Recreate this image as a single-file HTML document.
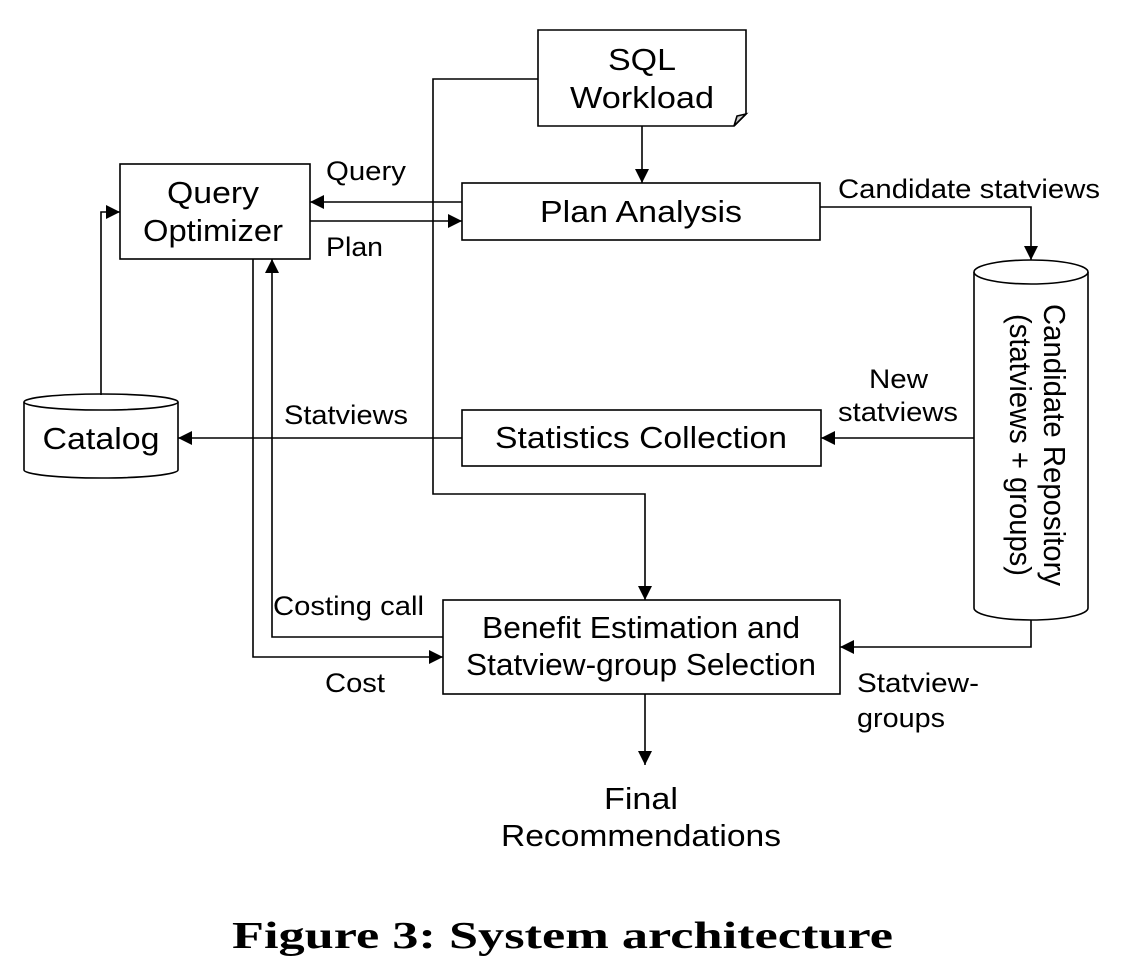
<!DOCTYPE html>
<html><head><style>
body{margin:0;background:#fff}
svg{display:block}
text{font-family:"Liberation Sans",sans-serif;fill:#000}
</style></head><body>
<svg width="1126" height="972" viewBox="0 0 1126 972">
<defs><marker id="a" viewBox="0 0 10 10" refX="10" refY="5" markerWidth="14" markerHeight="14" markerUnits="userSpaceOnUse" orient="auto"><path d="M0,0 L10,5 L0,10 z" fill="#000"/></marker></defs>
<g stroke="#000" stroke-width="1.6" fill="none">
<path d="M538,30 H746 V114 L734,126 H538 Z" fill="#fff"/>
<path d="M734,126 L737,116 L746,114 Z" fill="#ccc"/>
<rect x="462" y="183" width="358" height="57" fill="#fff"/>
<rect x="120" y="164" width="190" height="95" fill="#fff"/>
<rect x="462" y="410" width="359" height="56" fill="#fff"/>
<rect x="443" y="600" width="397" height="94" fill="#fff"/>
<path d="M24,402 V470 A77,8 0 0 0 178,470 V402" fill="#fff"/>
<ellipse cx="101" cy="402" rx="77" ry="8" fill="#fff"/>
<path d="M974,272 V608 A57,12 0 0 0 1088,608 V272" fill="#fff"/>
<ellipse cx="1031" cy="272" rx="57" ry="12" fill="#fff"/>
<path d="M642,126 V183" marker-end="url(#a)"/>
<path d="M538,79 H433 V494 H645 V600" marker-end="url(#a)"/>
<path d="M462,202 H310" marker-end="url(#a)"/>
<path d="M310,221 H462" marker-end="url(#a)"/>
<path d="M820,207 H1031 V260" marker-end="url(#a)"/>
<path d="M974,438 H821" marker-end="url(#a)"/>
<path d="M462,438 H178" marker-end="url(#a)"/>
<path d="M101,395 V212 H120" marker-end="url(#a)"/>
<path d="M443,637 H272 V259" marker-end="url(#a)"/>
<path d="M253,259 V657 H443" marker-end="url(#a)"/>
<path d="M1031,620 V647 H840" marker-end="url(#a)"/>
<path d="M645,694 V765" marker-end="url(#a)"/>
</g>
<g font-size="31" text-anchor="middle">
<text x="642" y="70" textLength="68" lengthAdjust="spacingAndGlyphs">SQL</text>
<text x="642" y="108" textLength="144" lengthAdjust="spacingAndGlyphs">Workload</text>
<text x="641" y="222" textLength="202" lengthAdjust="spacingAndGlyphs">Plan Analysis</text>
<text x="213" y="203" textLength="92" lengthAdjust="spacingAndGlyphs">Query</text>
<text x="213" y="241" textLength="140" lengthAdjust="spacingAndGlyphs">Optimizer</text>
<text x="101" y="449" textLength="117" lengthAdjust="spacingAndGlyphs">Catalog</text>
<text x="641" y="448" textLength="292" lengthAdjust="spacingAndGlyphs">Statistics Collection</text>
<text x="641" y="638" textLength="318" lengthAdjust="spacingAndGlyphs">Benefit Estimation and</text>
<text x="641" y="675" textLength="350" lengthAdjust="spacingAndGlyphs">Statview-group Selection</text>
<text x="641" y="809" textLength="74" lengthAdjust="spacingAndGlyphs">Final</text>
<text x="641" y="846" textLength="280" lengthAdjust="spacingAndGlyphs">Recommendations</text>
<text transform="translate(1044,445) rotate(90)" textLength="282" lengthAdjust="spacingAndGlyphs">Candidate Repository</text>
<text transform="translate(1010,445) rotate(90)" textLength="262" lengthAdjust="spacingAndGlyphs">(statviews + groups)</text>
</g>
<g font-size="27">
<text x="326" y="180" textLength="80" lengthAdjust="spacingAndGlyphs">Query</text>
<text x="326" y="256" textLength="57" lengthAdjust="spacingAndGlyphs">Plan</text>
<text x="838" y="198" textLength="262" lengthAdjust="spacingAndGlyphs">Candidate statviews</text>
<text x="869" y="388" textLength="59" lengthAdjust="spacingAndGlyphs">New</text>
<text x="838" y="421" textLength="120" lengthAdjust="spacingAndGlyphs">statviews</text>
<text x="284" y="424" textLength="124" lengthAdjust="spacingAndGlyphs">Statviews</text>
<text x="273" y="615" textLength="151" lengthAdjust="spacingAndGlyphs">Costing call</text>
<text x="325" y="692" textLength="60" lengthAdjust="spacingAndGlyphs">Cost</text>
<text x="857" y="692" textLength="122" lengthAdjust="spacingAndGlyphs">Statview-</text>
<text x="857" y="727" textLength="88" lengthAdjust="spacingAndGlyphs">groups</text>
</g>
<text x="232" y="948" textLength="661" lengthAdjust="spacingAndGlyphs" font-weight="bold" font-size="38" style="font-family:'Liberation Serif',serif">Figure 3:  System architecture</text>
</svg>
</body></html>
